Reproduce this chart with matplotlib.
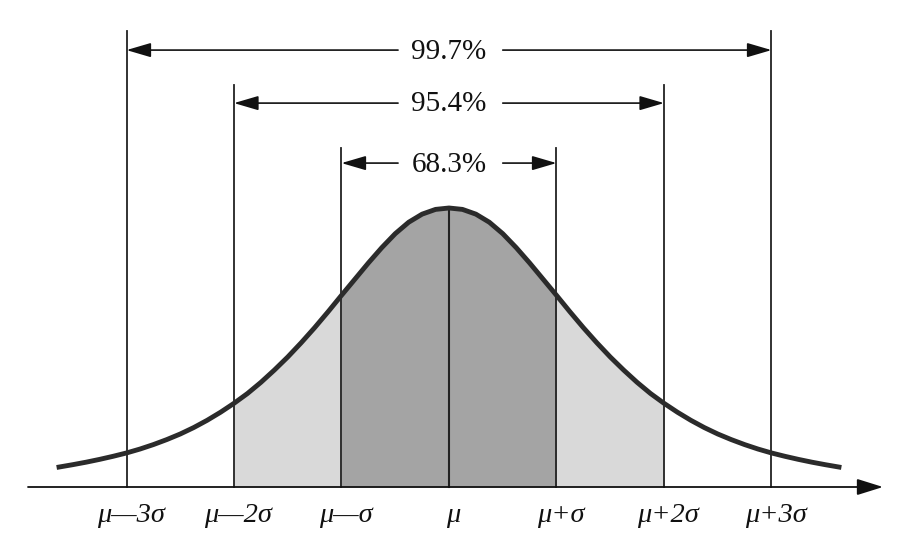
import matplotlib
matplotlib.use("Agg")
import matplotlib.pyplot as plt

# right half of the curve, heights (peak = 1), x in units of sigma
half_z = [0.0, 0.125, 0.25, 0.375, 0.5, 0.625, 0.75, 0.875, 1.0, 1.125, 1.25, 1.375,
          1.5, 1.625, 1.75, 1.875, 2.0, 2.125, 2.25, 2.375, 2.5, 2.625, 2.75, 2.875,
          3.0, 3.125, 3.25, 3.375, 3.5, 3.65]
half_h = [1.000, 0.995, 0.978, 0.949, 0.908, 0.858, 0.803, 0.745, 0.687, 0.628, 0.571, 0.517,
          0.466, 0.419, 0.375, 0.335, 0.300, 0.268, 0.239, 0.213, 0.190, 0.170, 0.152, 0.136,
          0.122, 0.110, 0.099, 0.089, 0.080, 0.070]

tick_pos = [-3, -2, -1, 0, 1, 2, 3]
tick_labels = ["\u03bc\u20143\u03c3", "\u03bc\u20142\u03c3", "\u03bc\u2014\u03c3", "\u03bc",
               "\u03bc+\u03c3", "\u03bc+2\u03c3", "\u03bc+3\u03c3"]

spans = [3, 2, 1]
span_labels = ["99.7%", "95.4%", "68.3%"]

serif = "Liberation Serif"

# symmetric curve
z_pts = [-z for z in reversed(half_z[1:])] + half_z
heights = list(reversed(half_h[1:])) + half_h

fig = plt.figure(figsize=(9.1, 5.52), dpi=100)
ax = fig.add_axes([0, 0, 1, 1])
ax.set_xlim(-449 / 107.5, (910 - 449) / 107.5)
ax.set_ylim((487 - 552) / 279, 487 / 279)
ax.axis("off")

# shaded areas
inner = [(z, h) for z, h in zip(z_pts, heights) if -1 <= z <= 1]
ax.fill_between([p[0] for p in inner], [p[1] for p in inner], 0,
                color="#a4a4a4", lw=0, zorder=1)
for lo, hi in [(-2, -1), (1, 2)]:
    part = [(z, h) for z, h in zip(z_pts, heights) if lo <= z <= hi]
    ax.fill_between([p[0] for p in part], [p[1] for p in part], 0,
                    color="#d9d9d9", lw=0, zorder=1)

# vertical guide lines and span arrows
line_tops = {3: 1.634, 2: 1.440, 1: 1.215}
arrow_y = {3: 1.566, 2: 1.376, 1: 1.161}
text_y = {3: 1.534, 2: 1.348, 1: 1.129}
for k, lab in zip(spans, span_labels):
    for s in (-1, 1):
        ax.plot([s * k, s * k], [0, line_tops[k]], color="#222222", lw=1.3, zorder=2)
        start = -0.474 if s < 0 else 0.50
        ax.annotate("", xy=(s * k, arrow_y[k]), xytext=(start, arrow_y[k]),
                    arrowprops=dict(arrowstyle="-|>,head_length=0.75,head_width=0.22",
                                    color="#111111", lw=1.2, shrinkA=0, shrinkB=0,
                                    mutation_scale=20))
    ax.text(0, text_y[k], lab, ha="center", va="baseline", fontsize=21,
            family=serif, color="#111111")

ax.plot([0, 0], [0, 1.0], color="#222222", lw=1.5, zorder=2)

# the curve
ax.plot(z_pts, heights, color="#2b2b2b", lw=3.5, solid_capstyle="butt", zorder=3)

# horizontal axis with arrow
ax.annotate("", xy=((883 - 449) / 107.5, 0), xytext=((28 - 449) / 107.5, 0),
            arrowprops=dict(arrowstyle="-|>,head_length=0.8,head_width=0.25",
                            color="#111111", lw=1.3, shrinkA=0, shrinkB=0,
                            mutation_scale=20), zorder=4)

for z, lab in zip(tick_pos, tick_labels):
    ax.text(z + 0.04, -0.125, lab, ha="center", va="baseline", fontsize=20.5,
            family=serif, style="italic", color="#111111")

fig.savefig("out.png", dpi=100, facecolor="white")
